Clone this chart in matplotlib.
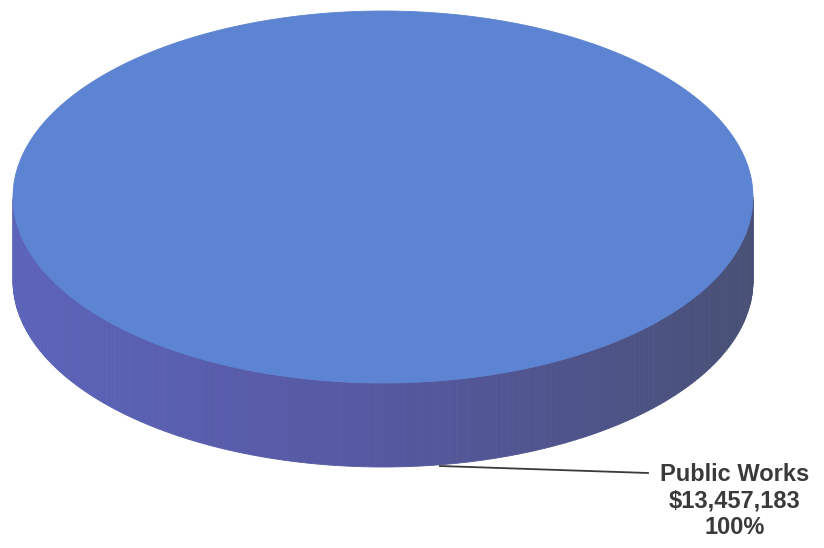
import numpy as np
import matplotlib.pyplot as plt
from matplotlib.patches import Polygon

plt.rcParams['font.family'] = ['Liberation Sans', 'DejaVu Sans']

# 数据
labels = ['Public Works']
values = [13457183]

total = float(sum(values))
fracs = [v / total for v in values]

# 画布（像素坐标）
fig = plt.figure(figsize=(8.24, 5.48), dpi=100)
ax = fig.add_axes([0, 0, 1, 1])
ax.set_xlim(0, 824)
ax.set_ylim(548, 0)
ax.axis('off')

cx, cy = 383, 197      # 顶面椭圆中心
a, b = 370, 186        # 半轴
depth = 84             # 厚度

top_col = np.array([92, 132, 210]) / 255
side_left = np.array([92, 100, 186]) / 255
side_mid = np.array([86, 88, 160]) / 255
side_right = np.array([72, 80, 118]) / 255

start = 0.0
for frac, lab, val in zip(fracs, labels, values):
    t1 = start
    t2 = start + 2 * np.pi * frac
    t = np.linspace(t1, t2, 400)
    # 侧面：只画朝前的部分 (sin>0)，逐段渐变
    for i in range(len(t) - 1):
        ta, tb = t[i], t[i + 1]
        if np.sin((ta + tb) / 2) <= 0:
            continue
        xa, ya = cx + a * np.cos(ta), cy + b * np.sin(ta)
        xb, yb = cx + a * np.cos(tb), cy + b * np.sin(tb)
        k = (np.cos((ta + tb) / 2) + 1) / 2   # 0=左, 1=右
        if k < 0.5:
            col = side_left * (1 - 2 * k) + side_mid * 2 * k
        else:
            col = side_mid * (2 - 2 * k) + side_right * (2 * k - 1)
        quad = [(xa, ya), (xb, yb), (xb, yb + depth), (xa, ya + depth)]
        ax.add_patch(Polygon(quad, closed=True, facecolor=col, edgecolor=col, lw=0.6))
    # 顶面
    pts = np.column_stack([cx + a * np.cos(t), cy + b * np.sin(t)])
    if frac < 1:
        pts = np.vstack([[cx, cy], pts])
    ax.add_patch(Polygon(pts, closed=True, facecolor=top_col, edgecolor=top_col, lw=0.6))

    # 引线和标签
    ax.plot([440, 648], [466, 473], color='#3a3a3a', lw=1.3)
    txt = '%s\n$%s\n%d%%' % (lab, format(val, ','), round(frac * 100))
    ax.text(735, 501, txt, ha='center', va='center', fontsize=17,
            fontweight='bold', color='#3a3a3a', linespacing=1.22)
    start = t2

fig.savefig('out.png', dpi=100)
